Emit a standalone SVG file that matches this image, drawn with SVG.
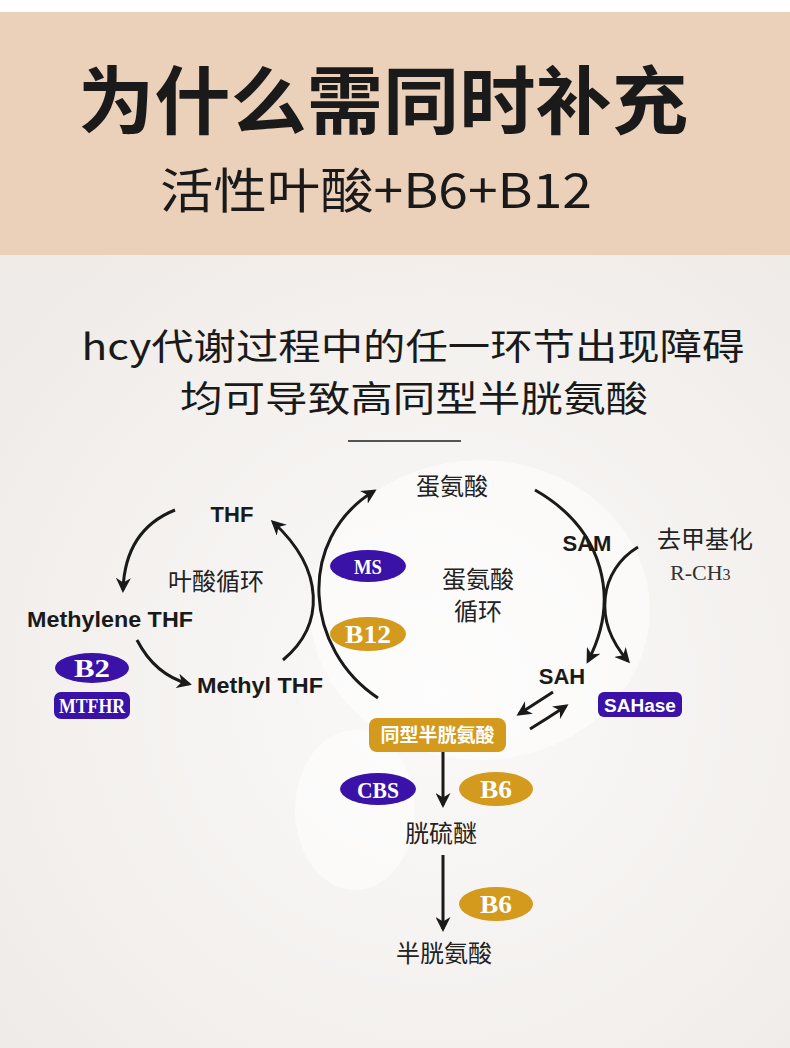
<svg xmlns="http://www.w3.org/2000/svg" width="790" height="1048" viewBox="0 0 790 1048">
<defs>
<style>
.cjk{font-family:"Noto Sans CJK SC","Noto Sans",sans-serif;fill:#1a1a1a}
.lab{font-family:"Liberation Sans",Arial,sans-serif;font-weight:bold;fill:#1a1a1a;font-size:22px}
.ser{font-family:"Liberation Serif","Noto Sans CJK SC",serif;fill:#fff;font-weight:bold}
.cj2{font-family:"Noto Sans CJK SC",sans-serif;fill:#222;font-size:24px}
.pur{fill:#3a12a8}
.org{fill:#d39a1e}
.ln{fill:none;stroke:#1a1a1a;stroke-width:3}
</style>
<marker id="ah" viewBox="0 0 10 10" refX="8" refY="5" markerWidth="5" markerHeight="5" orient="auto" markerUnits="strokeWidth">
<path d="M0,0 L10,5 L0,10 L3,5 z" fill="#1a1a1a"/>
</marker>
<radialGradient id="bg" cx="0.55" cy="0.55" r="0.7">
<stop offset="0" stop-color="#fbfaf9"/>
<stop offset="1" stop-color="#efebe8"/>
</radialGradient>
</defs>
<rect x="0" y="0" width="790" height="1048" fill="#f4f1ef"/>
<rect x="0" y="255" width="790" height="793" fill="url(#bg)"/>
<ellipse cx="480" cy="610" rx="170" ry="150" fill="#ffffff" opacity="0.5"/>
<ellipse cx="355" cy="810" rx="60" ry="80" fill="#ffffff" opacity="0.5"/>
<rect x="0" y="0" width="790" height="12" fill="#ffffff"/>
<rect x="0" y="12" width="790" height="243" fill="#ebd0ba"/>

<g id="title">
<text x="383" y="128" text-anchor="middle" class="cjk" font-size="74" font-weight="bold" textLength="610" lengthAdjust="spacingAndGlyphs">为什么需同时补充</text>
<text x="376" y="208" text-anchor="middle" class="cjk" font-size="48" textLength="432" lengthAdjust="spacingAndGlyphs">活性叶酸+B6+B12</text>
</g>
<g id="subtitle">
<text x="413" y="360" text-anchor="middle" class="cjk" font-size="36" textLength="663" lengthAdjust="spacingAndGlyphs">hcy代谢过程中的任一环节出现障碍</text>
<text x="414" y="412" text-anchor="middle" class="cjk" font-size="36" textLength="468" lengthAdjust="spacingAndGlyphs">均可导致高同型半胱氨酸</text>
<line x1="348" y1="441" x2="461" y2="441" stroke="#555" stroke-width="2"/>
</g>

<g id="connectors">
<path class="ln" d="M175,510 Q125,530 123,590" marker-end="url(#ah)"/>
<path class="ln" d="M137,640 Q155,675 189,684" marker-end="url(#ah)"/>
<path class="ln" d="M283,660 C325,625 325,570 273,522" marker-end="url(#ah)"/>
<path class="ln" d="M378,698 C305,650 295,540 374,491" marker-end="url(#ah)"/>
<path class="ln" d="M535,490 C605,530 620,600 588,661" marker-end="url(#ah)"/>
<path class="ln" d="M638,547 C600,570 592,620 628,661" marker-end="url(#ah)"/>
<path class="ln" d="M553,692 L519,714" stroke-width="2.5" marker-end="url(#ah)"/>
<path class="ln" d="M530,729 Q548,718 566,706" stroke-width="2.5" marker-end="url(#ah)"/>
<path class="ln" d="M443,752 L443,805" marker-end="url(#ah)"/>
<path class="ln" d="M443,855 L443,929" marker-end="url(#ah)"/>
</g>

<g id="met"><text x="452" y="495" text-anchor="middle" class="cj2">蛋氨酸</text></g>
<g id="thf"><text x="232" y="522" text-anchor="middle" class="lab">THF</text></g>
<g id="folate-label"><text x="216" y="590" text-anchor="middle" class="cj2">叶酸循环</text></g>
<g id="methylene"><text x="110" y="627" text-anchor="middle" class="lab" textLength="166" lengthAdjust="spacingAndGlyphs">Methylene THF</text></g>
<g id="methyl"><text x="260" y="693" text-anchor="middle" class="lab" textLength="126" lengthAdjust="spacingAndGlyphs">Methyl THF</text></g>
<g id="b2"><ellipse cx="92" cy="668" rx="37" ry="15" class="pur"/><text x="92" y="677" text-anchor="middle" class="ser" font-size="25" textLength="36" lengthAdjust="spacingAndGlyphs">B2</text></g>
<g id="mtfhr"><rect x="54" y="692" width="76" height="27" rx="7" class="pur"/><text x="92" y="713" text-anchor="middle" class="ser" font-size="21" textLength="66" lengthAdjust="spacingAndGlyphs">MTFHR</text></g>
<g id="ms"><ellipse cx="368" cy="566" rx="38" ry="16" class="pur"/><text x="368" y="574" text-anchor="middle" class="ser" font-size="22" textLength="28" lengthAdjust="spacingAndGlyphs">MS</text></g>
<g id="b12"><ellipse cx="368" cy="634" rx="38" ry="17" class="org"/><text x="368" y="643" text-anchor="middle" class="ser" font-size="26" textLength="46" lengthAdjust="spacingAndGlyphs">B12</text></g>
<g id="met-label"><text x="478" y="588" text-anchor="middle" class="cj2">蛋氨酸</text><text x="478" y="620" text-anchor="middle" class="cj2">循环</text></g>
<g id="sam"><text x="587" y="551" text-anchor="middle" class="lab">SAM</text></g>
<g id="demeth"><text x="705" y="548" text-anchor="middle" class="cj2">去甲基化</text><text x="670" y="580" font-family="Liberation Serif,serif" font-size="22" fill="#333">R-CH<tspan font-size="16">3</tspan></text></g>
<g id="sah"><text x="562" y="684" text-anchor="middle" class="lab">SAH</text></g>
<g id="sahase"><rect x="598" y="692" width="84" height="25" rx="6" class="pur"/><text x="640" y="712" text-anchor="middle" font-family="Liberation Sans,Arial,sans-serif" font-weight="bold" font-size="19" fill="#fff">SAHase</text></g>
<g id="hcy"><rect x="369" y="718" width="137" height="34" rx="8" class="org"/><text x="437.5" y="742" text-anchor="middle" class="cjk" font-size="19" font-weight="bold" style="fill:#fff">同型半胱氨酸</text></g>
<g id="cbs"><ellipse cx="378" cy="789" rx="38" ry="16" class="pur"/><text x="378" y="798" text-anchor="middle" class="ser" font-size="23" textLength="42" lengthAdjust="spacingAndGlyphs">CBS</text></g>
<g id="b6a"><ellipse cx="496" cy="789" rx="37" ry="17" class="org"/><text x="496" y="798" text-anchor="middle" class="ser" font-size="26" textLength="32" lengthAdjust="spacingAndGlyphs">B6</text></g>
<g id="cysta"><text x="441" y="842" text-anchor="middle" class="cj2">胱硫醚</text></g>
<g id="b6b"><ellipse cx="496" cy="904" rx="37" ry="17" class="org"/><text x="496" y="913" text-anchor="middle" class="ser" font-size="26" textLength="32" lengthAdjust="spacingAndGlyphs">B6</text></g>
<g id="cys"><text x="444" y="962" text-anchor="middle" class="cj2">半胱氨酸</text></g>
</svg>
